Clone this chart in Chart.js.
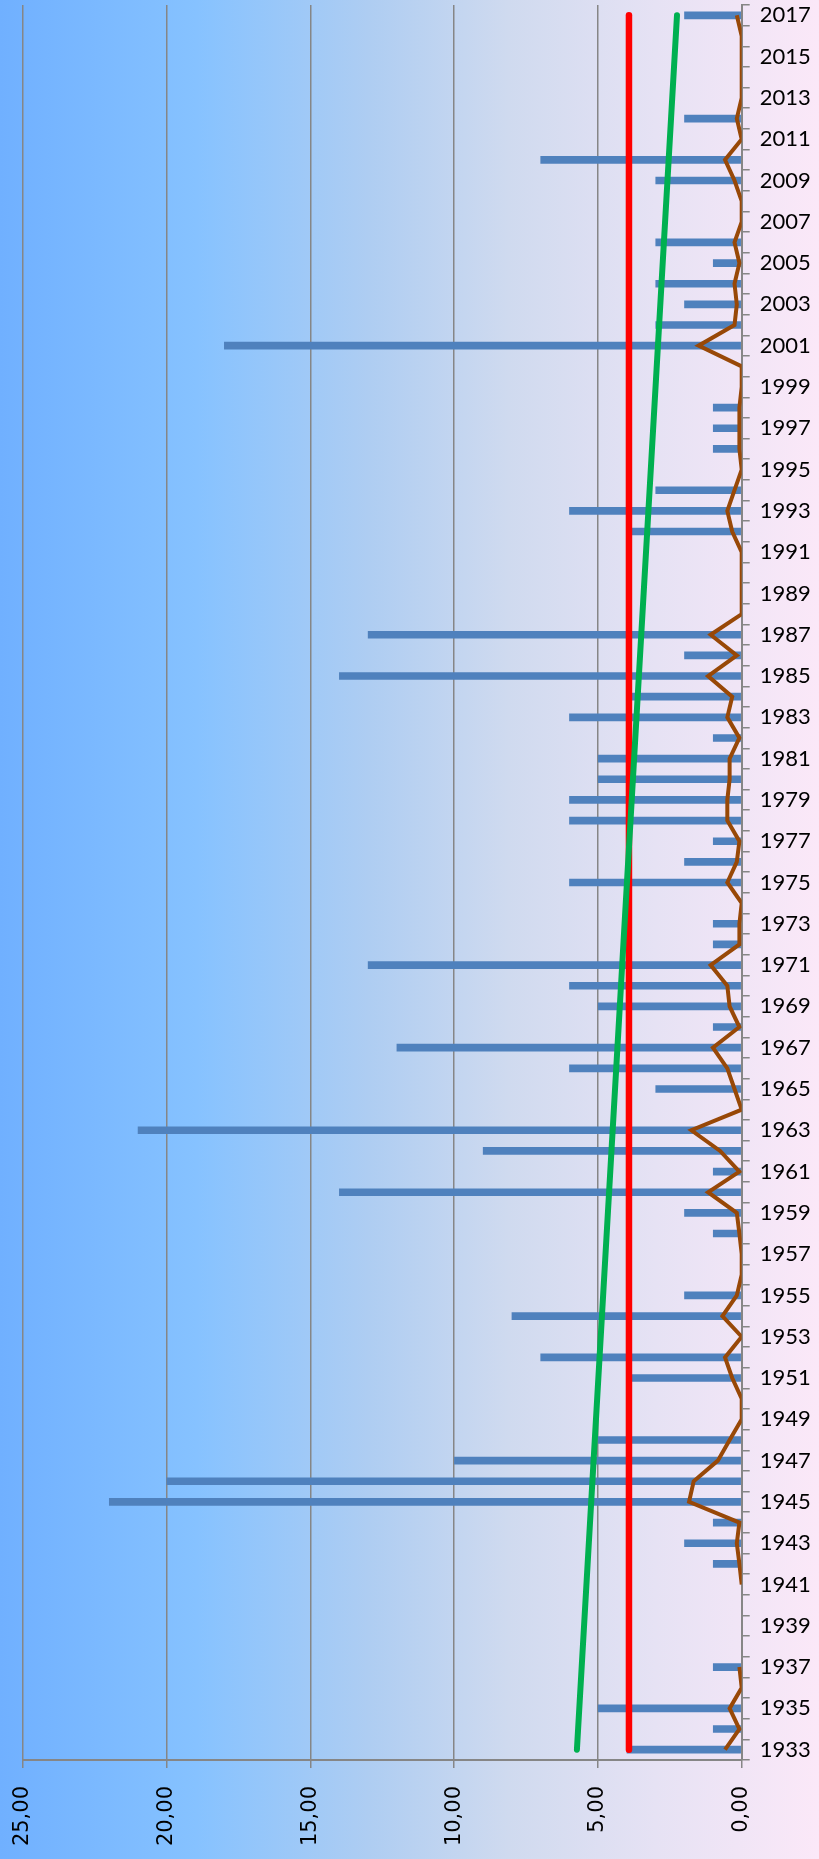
<!DOCTYPE html>
<html lang="en">
<head>
  <meta charset="UTF-8" />
  <title>1933-2017</title>
  <script src="https://cdn.jsdelivr.net/npm/chart.js"></script>
  <style>
    body {
      margin: 0;
      padding: 0;
      background: linear-gradient(to right, #70b0ff 0%, #86c2ff 24%, #aecdf2 45%, #cfdaef 62%, #e6e2f4 80%, #fbe8f8 100%);
    }
    .wrap {
      width: 819px;
      height: 1859px;
      position: relative;
    }
  </style>
</head>
<body>
  <div class="wrap"><canvas id="chart"></canvas></div>
  <script>
    // categories, bottom (1933) to top (2017)
    const years = [
      '1933','1934','1935','1936','1937','1938','1939','1940','1941','1942',
      '1943','1944','1945','1946','1947','1948','1949','1950','1951','1952',
      '1953','1954','1955','1956','1957','1958','1959','1960','1961','1962',
      '1963','1964','1965','1966','1967','1968','1969','1970','1971','1972',
      '1973','1974','1975','1976','1977','1978','1979','1980','1981','1982',
      '1983','1984','1985','1986','1987','1988','1989','1990','1991','1992',
      '1993','1994','1995','1996','1997','1998','1999','2000','2001','2002',
      '2003','2004','2005','2006','2007','2008','2009','2010','2011','2012',
      '2013','2014','2015','2016','2017'
    ];

    // yearly values (blue bars)
    const yearly = [
      4, 1, 5, 0, 1, null, null, null, 0, 1,
      2, 1, 22, 20, 10, 5, 0, 0, 4, 7,
      0, 8, 2, 0, 0, 1, 2, 14, 1, 9,
      21, 0, 3, 6, 12, 1, 5, 6, 13, 1,
      1, 0, 6, 2, 1, 6, 6, 5, 5, 1,
      6, 4, 14, 2, 13, 0, 0, 0, 0, 4,
      6, 3, 0, 1, 1, 1, 0, 0, 18, 3,
      2, 3, 1, 3, 0, 0, 3, 7, 0, 2,
      0, 0, 0, 0, 2
    ];

    // brown line
    const monthly = [
      0.58, 0.08, 0.42, 0, 0.08, null, null, null, 0, 0.08,
      0.17, 0.08, 1.83, 1.67, 0.83, 0.42, 0, 0, 0.33, 0.58,
      0, 0.67, 0.17, 0, 0, 0.08, 0.17, 1.17, 0.08, 0.75,
      1.75, 0, 0.25, 0.5, 1.0, 0.08, 0.42, 0.5, 1.08, 0.08,
      0.08, 0, 0.5, 0.17, 0.08, 0.5, 0.5, 0.42, 0.42, 0.08,
      0.5, 0.33, 1.17, 0.17, 1.08, 0, 0, 0, 0, 0.33,
      0.5, 0.25, 0, 0.08, 0.08, 0.08, 0, 0, 1.5, 0.25,
      0.17, 0.25, 0.08, 0.25, 0, 0, 0.25, 0.58, 0, 0.17,
      0, 0, 0, 0, 0.17
    ];

    // red mean line and green trend line, first and last year
    const meanEnds = [3.92, 3.92];
    const trendEnds = [5.73, 2.25];
    const valueTicks = [0, 5, 10, 15, 20, 25];

    const first = years[0];
    const last = years[years.length - 1];

    new Chart(document.getElementById('chart'), {
      data: {
        labels: years,
        datasets: [
          {
            type: 'line',
            indexAxis: 'y',
            data: monthly,
            borderColor: '#984807',
            borderWidth: 4,
            pointRadius: 0,
            spanGaps: false,
            tension: 0,
            order: 1
          },
          {
            type: 'line',
            indexAxis: 'y',
            data: [{ x: trendEnds[0], y: first }, { x: trendEnds[1], y: last }],
            borderColor: '#00b050',
            borderWidth: 6,
            borderCapStyle: 'round',
            pointRadius: 0,
            order: 2
          },
          {
            type: 'line',
            indexAxis: 'y',
            data: [{ x: meanEnds[0], y: first }, { x: meanEnds[1], y: last }],
            borderColor: '#ff0000',
            borderWidth: 6.5,
            borderCapStyle: 'round',
            pointRadius: 0,
            order: 3
          },
          {
            type: 'bar',
            data: yearly,
            backgroundColor: '#4f81bd',
            categoryPercentage: 1,
            barPercentage: 0.37,
            order: 4
          }
        ]
      },
      options: {
        indexAxis: 'y',
        responsive: true,
        maintainAspectRatio: false,
        animation: false,
        layout: { padding: { left: 22.7, right: 0, top: 5, bottom: 0 } },
        plugins: { legend: { display: false }, tooltip: { enabled: false } },
        scales: {
          x: {
            type: 'linear',
            position: 'bottom',
            reverse: true,
            min: valueTicks[0],
            max: valueTicks[valueTicks.length - 1],
            afterBuildTicks: (axis) => { axis.ticks = valueTicks.map(v => ({ value: v })); },
            afterFit: (axis) => {
              axis.height = 99;
              axis.paddingLeft = 0;
              axis.paddingRight = 0;
            },
            grid: { color: '#868686', lineWidth: 1.5, tickLength: 8 },
            border: { color: '#868686', width: 2 },
            ticks: {
              minRotation: 90,
              maxRotation: 90,
              padding: 18,
              color: '#000',
              font: { family: 'DejaVu Sans', size: 21 },
              callback: (v) => Number(v).toFixed(2).replace('.', ',')
            }
          },
          y: {
            type: 'category',
            position: 'right',
            reverse: true,
            offset: true,
            afterFit: (axis) => {
              axis.width = 77.3;
              axis.paddingTop = 0;
              axis.paddingBottom = 0;
            },
            grid: { drawOnChartArea: false, offset: true, color: '#868686', lineWidth: 1.5, tickLength: 8 },
            border: { color: '#868686', width: 2 },
            ticks: {
              autoSkip: false,
              padding: 10,
              color: '#000',
              font: { family: 'Lato', size: 22 },
              callback: (v, i) => (i % 2 === 0 ? years[i] : '')
            }
          }
        }
      }
    });
  </script>
</body>
</html>
